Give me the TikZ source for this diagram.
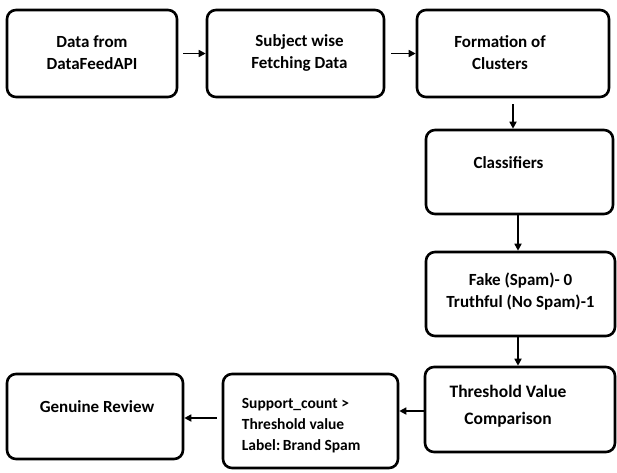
\documentclass[tikz,border=0pt]{standalone}
\usepackage{fontspec}
\setmainfont{Carlito}
\usetikzlibrary{arrows.meta,calc}

\tikzset{
  box/.style={draw=black, line width=2.6pt, rounded corners=9pt, fill=white,
              inner sep=0pt},
  lbl/.style={align=center, font=\fontsize{17}{22}\selectfont\bfseries, inner sep=0pt},
  lblleft/.style={align=left, font=\fontsize{15.5}{21}\selectfont\bfseries, inner sep=0pt},
  arr/.style={line width=1.6pt, -{Triangle[length=7pt,width=7pt]}},
}

\begin{document}
\begin{tikzpicture}[x=1pt,y=-1pt]
  \useasboundingbox (0,0) rectangle (617,472);

  % process boxes
  \node[box, minimum width=170pt, minimum height=87pt] (b1) at (92,53.5) {};
  \node[box, minimum width=177pt, minimum height=87pt] (b2) at (295.5,53.5) {};
  \node[box, minimum width=192pt, minimum height=87pt] (b3) at (513,53.5) {};
  \node[box, minimum width=187pt, minimum height=84pt] (cl) at (519.5,172) {};
  \node[box, minimum width=189pt, minimum height=84pt] (fk) at (520.5,294) {};
  \node[box, minimum width=190pt, minimum height=85pt] (th) at (520,409.5) {};
  \node[box, minimum width=175pt, minimum height=94pt] (sp) at (310.5,421) {};
  \node[box, minimum width=176pt, minimum height=85pt] (gn) at (95,416.5) {};

  % box texts
  \node[lbl] (t1) at ($(b1.center)+(0,-1)$) {Data from\\DataFeedAPI};
  \node[lbl] (t2) at ($(b2.center)+(4,-1)$) {Subject wise\\Fetching Data};
  \node[lbl] (t3) at ($(b3.center)+(-13,-1)$) {Formation of\\Clusters};
  \node[lbl] (t4) at ($(cl.center)+(-11,-9)$) {Classifiers};
  \node[lbl] (t5) at ($(fk.center)+(0,-2)$) {Fake (Spam)- 0\\Truthful (No Spam)-1};
  \node[lbl, font=\fontsize{17.5}{27}\selectfont\bfseries] (t6) at ($(th.center)+(-12,-3)$) {Threshold Value\\Comparison};
  \node[lblleft, anchor=west] (t7) at ($(sp.west)+(20,5)$) {Support\_count >\\Threshold value\\Label:\,Brand Spam};
  \node[lbl] (t8) at ($(gn.center)+(2,-10)$) {Genuine Review};

  % connectors
  \draw[arr] ([xshift=5pt]b1.east) -- (b2.west);
  \draw[arr] ([xshift=6pt]b2.east) -- (b3.west);
  \draw[arr] ([yshift=-6pt]b3.south) -- (b3.south |- cl.north);
  \draw[arr] ([xshift=-1.5pt]cl.south) -- ([xshift=-1.5pt]cl.south |- fk.north);
  \draw[arr] ([xshift=-2.5pt]fk.south) -- ([xshift=-2.5pt]fk.south |- th.north);
  \draw[arr] ([yshift=-1.5pt]th.west) -- ([yshift=-1.5pt]th.west -| sp.east);
  \draw[arr] ([xshift=-5pt,yshift=3pt]sp.west) -- ([yshift=3pt]sp.west -| gn.east);
\end{tikzpicture}
\end{document}
